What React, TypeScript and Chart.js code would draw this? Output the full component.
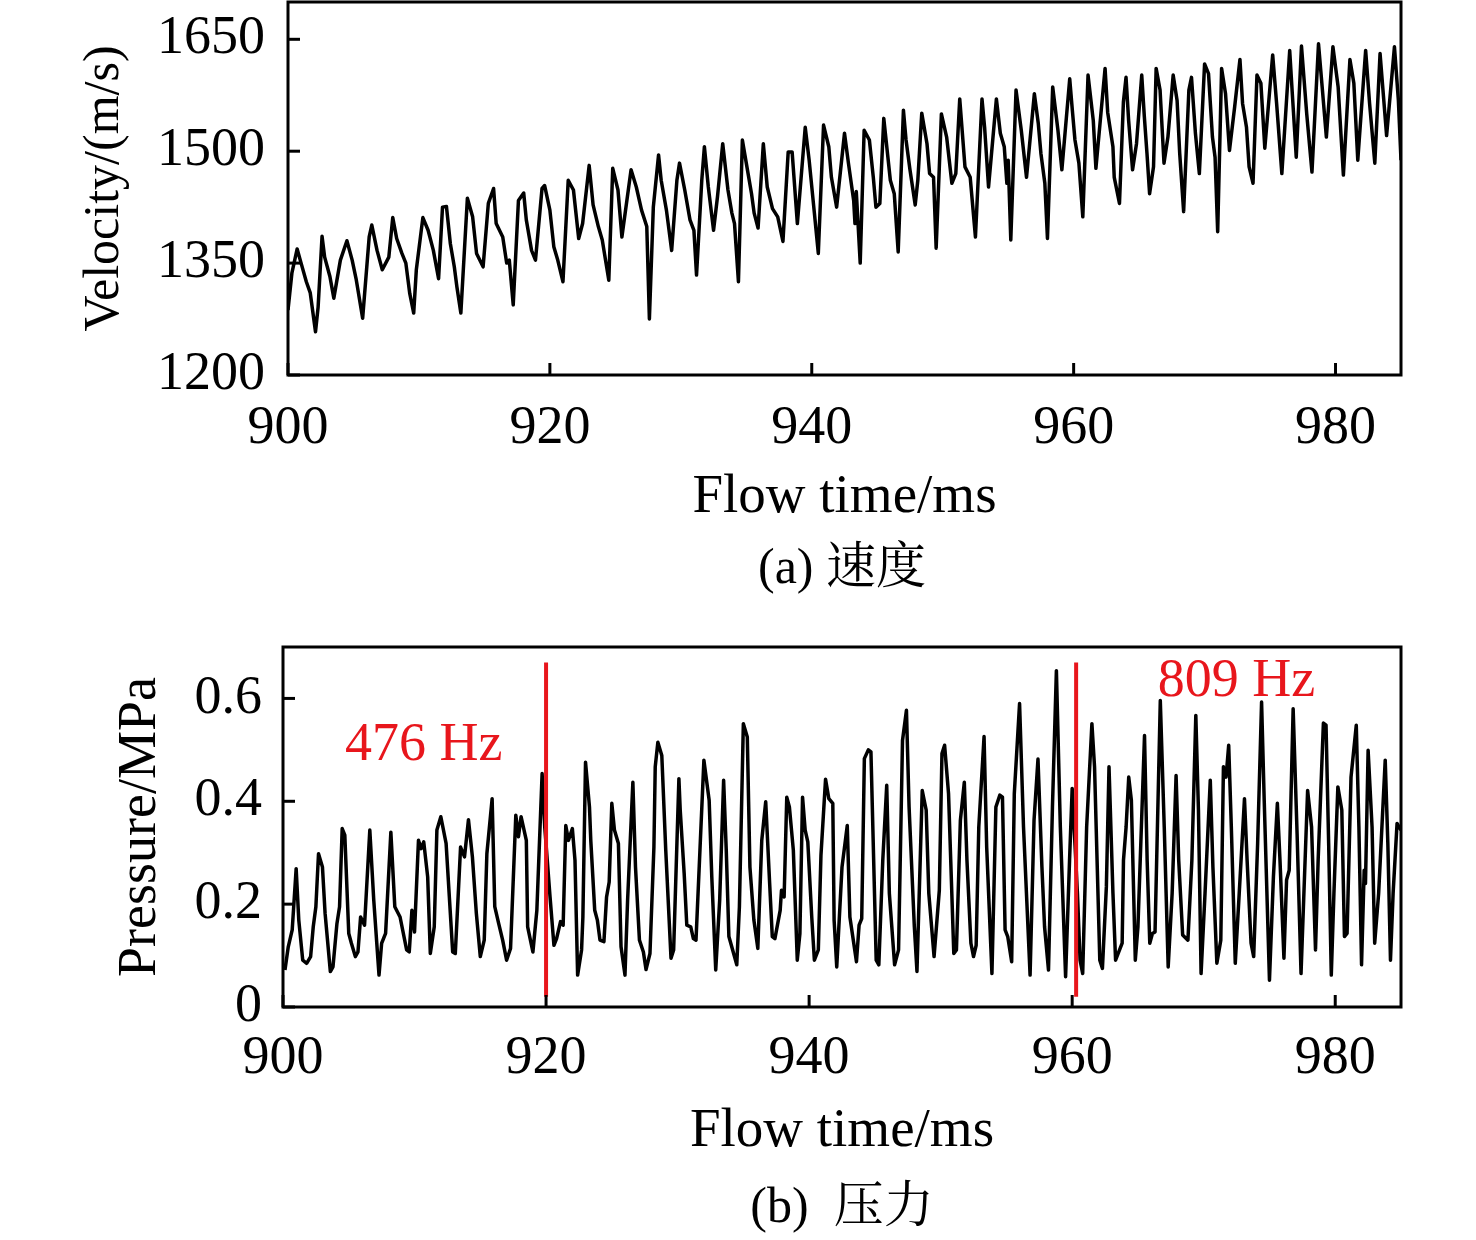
import { useEffect, useRef } from "react";
import { Chart, registerables } from "chart.js";

Chart.register(...registerables);

// 速度 (velocity) trace
const velTime = [
  900.0, 900.3, 900.7, 901.0, 901.4, 901.7, 902.1, 902.3, 902.6, 902.8, 903.2, 903.5, 904.0, 904.5, 904.9,
  905.2, 905.7, 906.2, 906.4, 906.8, 907.2, 907.7, 908.0, 908.3, 908.7, 909.0, 909.3, 909.6, 909.8, 910.3,
  910.7, 911.1, 911.5, 911.8, 912.1, 912.4, 912.7, 912.9, 913.2, 913.7, 914.1, 914.4, 914.9, 915.3, 915.7,
  915.9, 916.4, 916.7, 916.9, 917.2, 917.6, 918.0, 918.2, 918.6, 918.9, 919.4, 919.6, 920.0, 920.3, 920.6,
  921.0, 921.4, 921.8, 922.2, 922.5, 923.0, 923.3, 923.7, 924.0, 924.5, 924.8, 925.2, 925.5, 926.2, 926.6,
  927.0, 927.4, 927.6, 927.9, 928.3, 928.5, 928.9, 929.3, 929.7, 929.9, 930.3, 930.7, 931.0, 931.2, 931.6,
  931.8, 932.1, 932.5, 932.8, 933.2, 933.6, 933.9, 934.1, 934.4, 934.7, 935.0, 935.4, 935.6, 935.9, 936.3,
  936.6, 937.0, 937.4, 937.8, 938.2, 938.5, 938.9, 939.5, 939.8, 940.2, 940.5, 940.9, 941.3, 941.5, 941.9,
  942.5, 942.8, 943.2, 943.3, 943.4, 943.7, 944.0, 944.4, 944.7, 944.9, 945.2, 945.5, 946.0, 946.3, 946.6,
  947.0, 947.2, 947.5, 947.9, 948.1, 948.4, 948.8, 949.0, 949.3, 949.5, 949.9, 950.3, 950.7, 951.0, 951.3,
  951.7, 952.1, 952.5, 953.0, 953.2, 953.5, 954.1, 954.4, 954.7, 954.9, 955.0, 955.2, 955.6, 956.0, 956.4,
  957.0, 957.3, 957.5, 957.8, 958.0, 958.4, 958.8, 959.1, 959.7, 959.9, 960.1, 960.4, 960.7, 961.1, 961.5,
  961.7, 962.4, 962.6, 963.0, 963.1, 963.5, 963.8, 964.0, 964.2, 964.5, 964.8, 965.2, 965.4, 965.6, 965.8,
  966.1, 966.3, 966.6, 966.9, 967.2, 967.6, 967.9, 968.1, 968.4, 968.8, 969.0, 969.3, 969.6, 970.0, 970.3,
  970.6, 970.8, 971.0, 971.3, 971.6, 971.9, 972.3, 972.7, 972.9, 973.2, 973.4, 973.7, 974.0, 974.3, 974.6,
  975.2, 975.5, 975.9, 976.5, 976.7, 977.0, 977.4, 977.8, 978.2, 978.7, 979.0, 979.3, 979.8, 980.2, 980.6,
  981.1, 981.4, 981.7, 982.3, 982.6, 983.0, 983.4, 983.9, 984.5, 984.8, 985.0,
];
const velValue = [
  1287, 1337, 1369, 1350, 1325, 1310, 1258, 1291, 1386, 1358, 1332, 1303, 1354, 1380, 1354,
  1329, 1276, 1385, 1401, 1367, 1341, 1358, 1411, 1383, 1363, 1350, 1309, 1283, 1341, 1411,
  1394, 1367, 1329, 1425, 1426, 1376, 1345, 1318, 1283, 1437, 1412, 1363, 1345, 1430, 1450,
  1403, 1385, 1350, 1354, 1294, 1434, 1444, 1408, 1367, 1354, 1450, 1454, 1421, 1372, 1354,
  1325, 1461, 1448, 1383, 1403, 1481, 1428, 1399, 1381, 1327, 1477, 1448, 1385, 1475, 1452,
  1421, 1399, 1275, 1425, 1495, 1461, 1421, 1367, 1461, 1484, 1448, 1408, 1394, 1334, 1461,
  1506, 1452, 1394, 1439, 1510, 1448, 1417, 1403, 1325, 1515, 1484, 1443, 1417, 1397, 1510,
  1452, 1423, 1412, 1379, 1499, 1499, 1403, 1532, 1488, 1417, 1363, 1535, 1506, 1465, 1425,
  1524, 1484, 1434, 1403, 1446, 1350, 1528, 1515, 1465, 1425, 1430, 1544, 1461, 1443, 1365,
  1555, 1515, 1475, 1428, 1461, 1551, 1510, 1470, 1465, 1370, 1550, 1519, 1457, 1470, 1570,
  1479, 1465, 1385, 1570, 1532, 1452, 1570, 1524, 1506, 1457, 1488, 1381, 1582, 1528, 1465,
  1577, 1537, 1497, 1457, 1383, 1586, 1528, 1475, 1597, 1555, 1515, 1484, 1412, 1602, 1541,
  1477, 1611, 1552, 1506, 1465, 1430, 1566, 1599, 1541, 1475, 1510, 1602, 1546, 1497, 1443,
  1479, 1611, 1582, 1484, 1519, 1602, 1568, 1497, 1419, 1582, 1599, 1524, 1470, 1617, 1604,
  1519, 1492, 1392, 1611, 1577, 1501, 1560, 1623, 1564, 1532, 1479, 1457, 1602, 1591, 1504,
  1629, 1564, 1470, 1635, 1577, 1492, 1641, 1550, 1472, 1644, 1582, 1519, 1640, 1586, 1468,
  1623, 1591, 1488, 1635, 1564, 1484, 1631, 1521, 1640, 1568, 1488,
];

// 压力 (pressure) trace
const presTime = [
  900.15, 900.4, 900.7, 901.0, 901.2, 901.5, 901.8, 902.1, 902.3, 902.5, 902.7, 903.0, 903.2, 903.6, 903.8,
  904.1, 904.3, 904.5, 904.7, 905.0, 905.2, 905.5, 905.7, 905.9, 906.2, 906.6, 906.9, 907.3, 907.5, 907.8,
  908.2, 908.5, 908.9, 909.4, 909.6, 909.8, 910.0, 910.3, 910.5, 910.7, 911.0, 911.2, 911.5, 911.7, 912.0,
  912.4, 912.9, 913.1, 913.5, 913.8, 914.1, 914.4, 914.7, 915.0, 915.3, 915.5, 915.9, 916.1, 916.4, 916.7,
  917.0, 917.3, 917.7, 917.9, 918.1, 918.5, 918.6, 919.0, 919.3, 919.7, 919.9, 920.3, 920.6, 920.8, 921.1,
  921.3, 921.5, 921.7, 922.0, 922.2, 922.4, 922.7, 922.8, 923.0, 923.3, 923.4, 923.7, 923.9, 924.1, 924.4,
  924.6, 924.8, 925.0, 925.2, 925.5, 925.7, 926.0, 926.2, 926.6, 926.8, 927.1, 927.4, 927.6, 927.9, 928.2,
  928.3, 928.5, 928.8, 929.1, 929.5, 929.7, 930.1, 930.2, 930.5, 930.7, 931.0, 931.2, 931.4, 931.7, 932.0,
  932.4, 932.6, 932.9, 933.2, 933.5, 933.7, 933.9, 934.5, 934.7, 935.0, 935.3, 935.5, 935.8, 936.1, 936.4,
  936.7, 937.0, 937.2, 937.4, 937.8, 937.9, 938.1, 938.3, 938.5, 938.8, 939.1, 939.3, 939.5, 939.7, 939.9,
  940.2, 940.4, 940.7, 940.9, 941.25, 941.5, 941.8, 941.9, 942.1, 942.5, 942.9, 943.1, 943.6, 943.8, 944.0,
  944.2, 944.5, 944.7, 945.1, 945.3, 945.6, 945.9, 946.1, 946.5, 946.8, 947.1, 947.4, 947.6, 948.0, 948.2,
  948.6, 948.9, 949.1, 949.5, 949.9, 950.1, 950.3, 950.6, 951.0, 951.2, 951.5, 951.8, 952.0, 952.3, 952.5,
  952.7, 952.9, 953.3, 953.5, 953.9, 954.2, 954.5, 954.7, 954.9, 955.1, 955.4, 955.6, 956.0, 956.3, 956.8,
  957.1, 957.4, 957.7, 957.9, 958.2, 958.5, 958.8, 959.1, 959.5, 959.8, 960.0, 960.4, 960.6, 960.8, 961.1,
  961.5, 961.7, 962.1, 962.3, 962.6, 962.8, 963.1, 963.3, 963.8, 963.9, 964.1, 964.3, 964.5, 964.8, 965.0,
  965.5, 965.7, 965.9, 966.1, 966.3, 966.7, 967.0, 967.3, 967.6, 967.9, 968.1, 968.4, 968.8, 969.1, 969.4,
  969.6, 969.8, 970.1, 970.5, 970.7, 971.0, 971.3, 971.5, 971.7, 971.9, 972.1, 972.4, 972.7, 973.1, 973.3,
  973.6, 973.8, 974.1, 974.4, 974.6, 975.0, 975.3, 975.6, 975.8, 976.1, 976.3, 976.5, 976.8, 977.1, 977.4,
  977.6, 977.9, 978.2, 978.5, 978.7, 979.1, 979.3, 979.5, 979.7, 979.9, 980.2, 980.5, 980.7, 980.9, 981.2,
  981.6, 981.8, 982.0, 982.2, 982.3, 982.5, 982.8, 983.0, 983.3, 983.8, 984.0, 984.2, 984.4, 984.7, 985.0,
];
const presValue = [
  0.072, 0.117, 0.150, 0.269, 0.169, 0.091, 0.085, 0.098, 0.156, 0.195, 0.298, 0.272, 0.182, 0.069, 0.078,
  0.162, 0.195, 0.347, 0.334, 0.143, 0.124, 0.098, 0.107, 0.175, 0.159, 0.344, 0.208, 0.062, 0.124, 0.143,
  0.340, 0.195, 0.175, 0.111, 0.107, 0.188, 0.146, 0.324, 0.308, 0.321, 0.253, 0.104, 0.156, 0.344, 0.370,
  0.318, 0.107, 0.104, 0.311, 0.292, 0.364, 0.292, 0.182, 0.098, 0.130, 0.298, 0.405, 0.195, 0.162, 0.130,
  0.091, 0.114, 0.373, 0.331, 0.370, 0.324, 0.156, 0.107, 0.188, 0.454, 0.350, 0.215, 0.120, 0.133, 0.166,
  0.159, 0.353, 0.324, 0.347, 0.285, 0.062, 0.111, 0.175, 0.476, 0.389, 0.324, 0.188, 0.169, 0.130, 0.127,
  0.214, 0.243, 0.396, 0.344, 0.318, 0.117, 0.062, 0.208, 0.437, 0.272, 0.130, 0.107, 0.073, 0.104, 0.311,
  0.467, 0.515, 0.489, 0.305, 0.095, 0.111, 0.444, 0.383, 0.260, 0.159, 0.156, 0.133, 0.130, 0.305, 0.480,
  0.402, 0.253, 0.072, 0.208, 0.441, 0.305, 0.137, 0.082, 0.195, 0.551, 0.525, 0.272, 0.169, 0.114, 0.324,
  0.399, 0.240, 0.137, 0.133, 0.188, 0.227, 0.214, 0.408, 0.389, 0.305, 0.091, 0.143, 0.408, 0.344, 0.321,
  0.175, 0.091, 0.111, 0.295, 0.443, 0.405, 0.396, 0.169, 0.078, 0.272, 0.353, 0.175, 0.088, 0.159, 0.172,
  0.483, 0.500, 0.496, 0.091, 0.082, 0.285, 0.431, 0.221, 0.082, 0.111, 0.518, 0.577, 0.389, 0.156, 0.069,
  0.421, 0.383, 0.221, 0.098, 0.227, 0.493, 0.509, 0.415, 0.104, 0.111, 0.363, 0.437, 0.285, 0.124, 0.098,
  0.120, 0.350, 0.526, 0.311, 0.065, 0.389, 0.412, 0.408, 0.150, 0.137, 0.088, 0.415, 0.590, 0.350, 0.062,
  0.363, 0.482, 0.272, 0.156, 0.072, 0.389, 0.654, 0.350, 0.059, 0.285, 0.425, 0.221, 0.091, 0.065, 0.350,
  0.551, 0.467, 0.091, 0.075, 0.234, 0.467, 0.221, 0.091, 0.124, 0.285, 0.350, 0.447, 0.402, 0.091, 0.156,
  0.528, 0.285, 0.124, 0.143, 0.146, 0.596, 0.350, 0.078, 0.221, 0.450, 0.285, 0.140, 0.130, 0.285, 0.567,
  0.383, 0.065, 0.221, 0.441, 0.272, 0.085, 0.130, 0.467, 0.447, 0.509, 0.350, 0.085, 0.221, 0.405, 0.285,
  0.124, 0.098, 0.318, 0.593, 0.402, 0.052, 0.253, 0.396, 0.285, 0.095, 0.247, 0.266, 0.580, 0.337, 0.065,
  0.208, 0.421, 0.350, 0.111, 0.285, 0.552, 0.548, 0.318, 0.062, 0.221, 0.428, 0.383, 0.137, 0.143, 0.447,
  0.548, 0.350, 0.082, 0.266, 0.240, 0.499, 0.350, 0.124, 0.221, 0.480, 0.318, 0.091, 0.221, 0.357, 0.344,
];

const timeTicks = [900, 920, 940, 960, 980];
const velTicks = [1200, 1350, 1500, 1650];
const velTickText = ["1200", "1350", "1500", "1650"];
const presTicks = [0, 0.2, 0.4, 0.6];
const presTickText = ["0", "0.2", "0.4", "0.6"];

// red frequency markers in panel (b)
const markerTime = [920, 960.3];
const markerLow = 0.02;
const markerHigh = 0.67;
const noteText = ["476 Hz", "809 Hz"];
const noteTime = [910.7, 972.5];
const noteValue = [0.507, 0.632];

const SERIF = '"Liberation Serif", "Times New Roman", serif';
const RED = "#e8161c";

const framePlugin = {
  id: "frame",
  afterDatasetsDraw(chart: any) {
    const { ctx, chartArea: a, scales } = chart;
    ctx.save();
    ctx.strokeStyle = "#000";
    ctx.lineWidth = 3;
    ctx.strokeRect(a.left, a.top, a.right - a.left, a.bottom - a.top);
    // inward tick marks
    scales.x.ticks.forEach((t: any) => {
      const px = scales.x.getPixelForValue(t.value);
      ctx.beginPath();
      ctx.moveTo(px, a.bottom);
      ctx.lineTo(px, a.bottom - 12);
      ctx.stroke();
    });
    scales.y.ticks.forEach((t: any) => {
      const py = scales.y.getPixelForValue(t.value);
      ctx.beginPath();
      ctx.moveTo(a.left, py);
      ctx.lineTo(a.left + 12, py);
      ctx.stroke();
    });
    const notes = chart.options.plugins.frame?.notes;
    if (notes) {
      ctx.fillStyle = RED;
      ctx.font = `54px ${SERIF}`;
      ctx.textAlign = "center";
      ctx.textBaseline = "middle";
      notes.text.forEach((s: string, i: number) => {
        ctx.fillText(s, scales.x.getPixelForValue(notes.x[i]), scales.y.getPixelForValue(notes.y[i]));
      });
    }
    ctx.restore();
  },
};

interface PanelProps {
  times: number[];
  values: number[];
  yMin: number;
  yMax: number;
  yTicks: number[];
  yTickText: string[];
  yTitle: string;
  yTitleSize: number;
  yTitlePad: number;
  yTickPad: number;
  xTickPad: number;
  top: number;
  height: number;
  padTop: number;
  plotHeight: number;
  yWidth: number;
  markers?: boolean;
}

const Panel = (p: PanelProps) => {
  const ref = useRef<HTMLCanvasElement>(null);

  useEffect(() => {
    if (!ref.current) return;
    const xHeight = p.height - p.padTop - p.plotHeight;
    const datasets: any[] = [
      {
        data: p.times.map((t, i) => ({ x: t, y: p.values[i] })),
        borderColor: "#000",
        borderWidth: 3.5,
        borderJoinStyle: "round",
        pointRadius: 0,
        tension: 0,
        order: 1,
      },
    ];
    if (p.markers) {
      markerTime.forEach((t) => {
        datasets.push({
          data: [
            { x: t, y: markerLow },
            { x: t, y: markerHigh },
          ],
          borderColor: RED,
          borderWidth: 4,
          pointRadius: 0,
          order: 0,
        });
      });
    }
    const chart = new Chart(ref.current, {
      type: "line",
      data: { datasets },
      plugins: [framePlugin],
      options: {
        animation: false,
        responsive: true,
        maintainAspectRatio: false,
        layout: { padding: { top: p.padTop, right: 75, left: 0, bottom: 0 } },
        plugins: {
          legend: { display: false },
          tooltip: { enabled: false },
          frame: p.markers ? { notes: { text: noteText, x: noteTime, y: noteValue } } : {},
        } as any,
        scales: {
          x: {
            type: "linear",
            min: 900,
            max: 985,
            grid: { display: false, drawTicks: false },
            border: { display: false },
            afterBuildTicks: (s: any) => {
              s.ticks = timeTicks.map((v) => ({ value: v }));
            },
            afterFit: (s: any) => {
              s.height = xHeight;
            },
            ticks: {
              padding: p.xTickPad,
              color: "#000",
              maxRotation: 0,
              font: { family: SERIF, size: 54 },
              callback: (v: any) => String(v),
            },
            title: {
              display: true,
              text: "Flow time/ms",
              color: "#000",
              padding: { top: 0, bottom: 0 },
              font: { family: SERIF, size: 55 },
            },
          },
          y: {
            type: "linear",
            min: p.yMin,
            max: p.yMax,
            grid: { display: false, drawTicks: false },
            border: { display: false },
            afterBuildTicks: (s: any) => {
              s.ticks = p.yTicks.map((v) => ({ value: v }));
            },
            afterFit: (s: any) => {
              s.width = p.yWidth;
              s.paddingTop = 0;
              s.paddingBottom = 0;
            },
            ticks: {
              padding: p.yTickPad,
              color: "#000",
              font: { family: SERIF, size: 54 },
              callback: (_v: any, i: number) => p.yTickText[i],
            },
            title: {
              display: true,
              text: p.yTitle,
              color: "#000",
              padding: { top: p.yTitlePad, bottom: 0 },
              font: { family: SERIF, size: p.yTitleSize },
            },
          },
        },
      } as any,
    });
    return () => chart.destroy();
  }, []);

  return (
    <div style={{ position: "absolute", left: 0, top: p.top, width: 1476, height: p.height }}>
      <canvas ref={ref} />
    </div>
  );
};

const captionStyle = (top: number): React.CSSProperties => ({
  position: "absolute",
  left: 542,
  width: 600,
  top,
  height: 60,
  lineHeight: "60px",
  textAlign: "center",
  whiteSpace: "pre",
  fontSize: 50,
  color: "#000",
  fontFamily: '"Liberation Serif", "Noto Serif CJK SC", "Noto Sans CJK SC", serif',
});

export default function App() {
  return (
    <div style={{ position: "absolute", left: 0, top: 0, width: 1476, height: 1240, background: "#fff" }}>
      <Panel
        times={velTime}
        values={velValue}
        yMin={1200}
        yMax={1700}
        yTicks={velTicks}
        yTickText={velTickText}
        yTitle="Velocity/(m/s)"
        yTitleSize={50}
        yTitlePad={75}
        yTickPad={23}
        xTickPad={21}
        top={0}
        height={531}
        padTop={2}
        plotHeight={373}
        yWidth={288}
      />
      <div style={captionStyle(536)}>(a) 速度</div>
      <Panel
        times={presTime}
        values={presValue}
        yMin={0}
        yMax={0.7}
        yTicks={presTicks}
        yTickText={presTickText}
        yTitle="Pressure/MPa"
        yTitleSize={54}
        yTitlePad={108}
        yTickPad={21}
        xTickPad={19}
        top={600}
        height={565}
        padTop={47}
        plotHeight={360}
        yWidth={283}
        markers
      />
      <div style={captionStyle(1175)}>(b)  压力</div>
    </div>
  );
}
